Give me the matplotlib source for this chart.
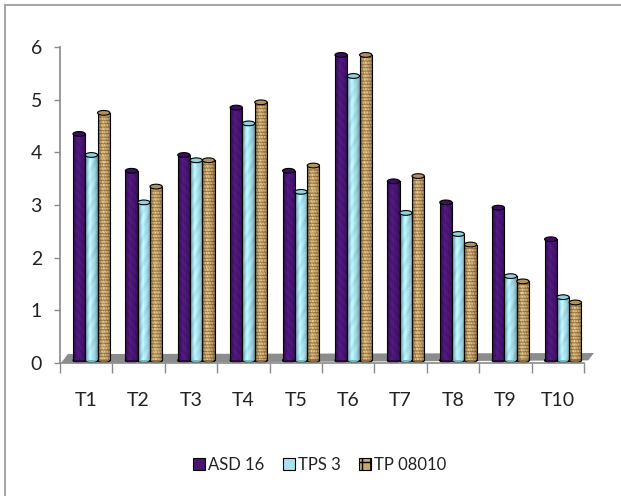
import numpy as np
import matplotlib
matplotlib.use("Agg")
import matplotlib.pyplot as plt
from matplotlib.patches import Ellipse, Polygon, Rectangle
from matplotlib.lines import Line2D

plt.rcParams["font.family"] = ["Lato", "DejaVu Sans"]
plt.rcParams["hatch.color"] = "#8c6d3c"

categories = ["T1", "T2", "T3", "T4", "T5", "T6", "T7", "T8", "T9", "T10"]
asd16 = [4.3, 3.6, 3.9, 4.8, 3.6, 5.8, 3.4, 3.0, 2.9, 2.3]
tps3 = [3.9, 3.0, 3.8, 4.5, 3.2, 5.4, 2.8, 2.4, 1.6, 1.2]
tp08010 = [4.7, 3.3, 3.8, 4.9, 3.7, 5.8, 3.5, 2.2, 1.5, 1.1]
series_names = ["ASD 16", "TPS 3", "TP 08010"]

BAR_W = 0.235      # width of one cylinder, in category units
DEPTH_DX = 0.10    # bars sit a little back on the floor
DEPTH_DY = 0.05
CAP_H = 0.09       # height of the elliptical caps, in data units

styles = {
    "ASD 16": dict(kind="purple", cap="#3d0d63", bottom="#2a0845", legend="#4a1470"),
    "TPS 3": dict(kind="cyan", cap="#8fd3df", bottom="#6fb8c6", legend="#a9e3ee"),
    "TP 08010": dict(kind="tan", cap="#b3925a", bottom="#8c6d3c", legend="#c9a86a"),
}


def texture(kind, rows, cols, phase):
    y, x = np.mgrid[0:rows, 0:cols].astype(float)
    u = (x + 0.5) / cols
    # round-body shading with a soft highlight left of centre
    shade = 0.55 + 0.45 * np.sin(np.pi * u) ** 0.6 + 0.12 * np.exp(-((u - 0.38) / 0.12) ** 2)
    if kind == "purple":
        base = np.array([0.33, 0.10, 0.52])
        m = 0.88 + 0.12 * np.sin(0.21 * y + 0.9 * x + phase) * np.cos(0.13 * y - 0.5 * x + 2 * phase)
        rgb = base * m[..., None]
    elif kind == "cyan":
        base = np.array([0.66, 0.89, 0.94])
        m = np.sin(0.18 * (y - 2.2 * x) + phase) * np.cos(0.07 * y + phase)
        rgb = base + 0.18 * np.clip(m, 0, 1)[..., None] * (1 - base)
        rgb = rgb - 0.06 * np.clip(-m, 0, 1)[..., None]
    else:
        base = np.array([0.86, 0.75, 0.52])
        brown = np.array([0.55, 0.40, 0.22])
        marks = (np.sin(0.95 * y + phase) > 0.6) | (np.sin(1.3 * x + 2.3 * np.floor(y / 5) + phase) > 0.8)
        rgb = np.where(marks[..., None], brown, base)
    rgb = rgb * shade[..., None]
    return np.clip(rgb, 0, 1)


fig = plt.figure(figsize=(6.21, 4.96), dpi=100)
ax = fig.add_axes([0.0966, 0.2681, 0.8438, 0.6371])

# grey floor under the cylinders
floor = Polygon([(-0.48, 0.0), (-0.35, 0.17), (9.69, 0.19), (9.58, 0.05)],
                closed=True, facecolor="#8c8c8c", edgecolor="none", zorder=1, clip_on=False)
ax.add_patch(floor)

x = np.arange(len(categories))
all_values = [asd16, tps3, tp08010]
for j, (name, values) in enumerate(zip(series_names, all_values)):
    st = styles[name]
    centers = x + DEPTH_DX + (j - 1) * BAR_W
    bars = ax.bar(centers, values, width=BAR_W, bottom=DEPTH_DY,
                  facecolor="none", linewidth=0, zorder=2)
    for k, (bar, v) in enumerate(zip(bars, values)):
        cx = centers[k]
        x0, x1 = cx - BAR_W / 2, cx + BAR_W / 2
        top = DEPTH_DY + v
        ax.add_patch(Ellipse((cx, DEPTH_DY), BAR_W, CAP_H, facecolor=st["bottom"],
                             edgecolor="black", linewidth=0.8, zorder=1.9))
        img = texture(st["kind"], int(v * 105), 24, phase=1.3 * k + j)
        im = ax.imshow(img, extent=(x0, x1, DEPTH_DY, top), origin="lower",
                       aspect="auto", interpolation="bilinear", zorder=2)
        im.set_clip_path(bar)
        ax.plot([x0, x0], [DEPTH_DY, top], color="black", lw=0.8, zorder=2.1)
        ax.plot([x1, x1], [DEPTH_DY, top], color="black", lw=0.8, zorder=2.1)
        ax.add_patch(Ellipse((cx, top), BAR_W, CAP_H, facecolor=st["cap"],
                             edgecolor="black", linewidth=0.8, zorder=2.2))

ax.set_xlim(-0.5, 9.5)
ax.set_ylim(0, 6)

for side in ("top", "right"):
    ax.spines[side].set_visible(False)
for side in ("left", "bottom"):
    ax.spines[side].set_color("#8a8a8a")
    ax.spines[side].set_linewidth(1.2)

ax.set_yticks(range(7))
ax.tick_params(axis="y", length=4, width=1.0, color="#8a8a8a", pad=9,
               labelsize=14, labelcolor="#222222")

ax.set_xticks(np.arange(-0.5, 10, 1))
ax.set_xticklabels([])
ax.tick_params(axis="x", which="major", length=7, width=1.0, color="#8a8a8a")
ax.set_xticks(x, minor=True)
ax.set_xticklabels(categories, minor=True)
ax.tick_params(axis="x", which="minor", length=0, pad=21, labelsize=14, labelcolor="#222222")

handles = [Rectangle((0, 0), 1, 1, facecolor=styles[n]["legend"], edgecolor="black",
                     linewidth=0.8, hatch="++" if n == "TP 08010" else None)
           for n in series_names]
fig.legend(handles, series_names, loc="center", bbox_to_anchor=(0.515, 0.0625), ncol=3,
           frameon=False, fontsize=12, handlelength=0.7, handleheight=0.7,
           handletextpad=0.2, columnspacing=1.1, labelcolor="#222222")

# outer chart frame (top and left edges)
fig.add_artist(Line2D([5 / 621, 1], [1 - 5 / 496, 1 - 5 / 496], transform=fig.transFigure,
                      color="#a6a6a6", lw=1.5))
fig.add_artist(Line2D([5 / 621, 5 / 621], [0, 1 - 5 / 496], transform=fig.transFigure,
                      color="#a6a6a6", lw=1.5))

fig.savefig("out.png", dpi=100)
